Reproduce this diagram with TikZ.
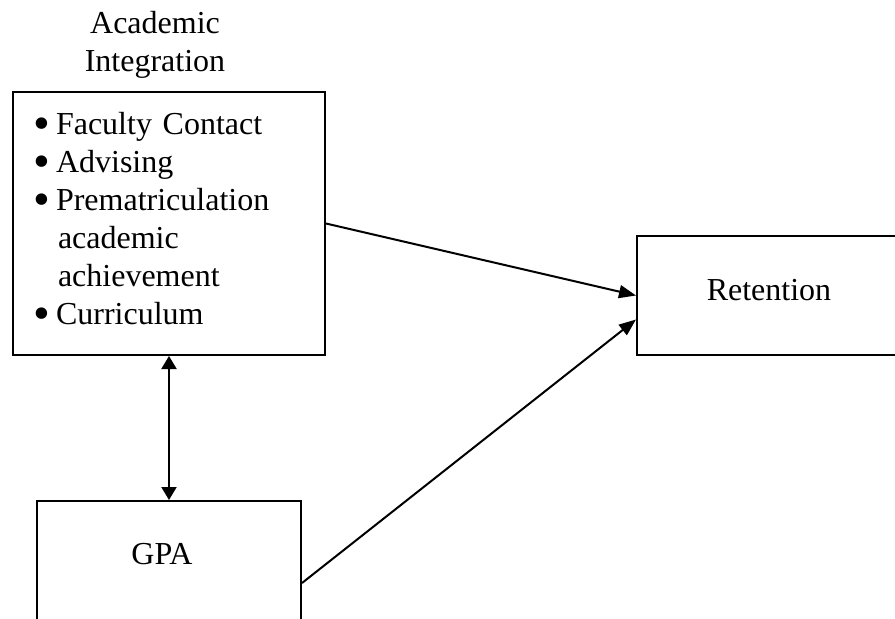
\documentclass[tikz,border=0pt]{standalone}
\usepackage{fontspec}
\usepackage{graphicx}
\setmainfont{Liberation Serif}
\usetikzlibrary{arrows.meta}
\newcommand{\aiitem}[1]{\makebox[11pt][l]{\hspace*{-0.5pt}\raisebox{-2.7pt}{\scalebox{1.5}{\textbullet}}}#1}
\newcommand{\aicont}[1]{\hspace*{12pt}#1}
\tikzset{
    box/.style={draw,line width=1pt,inner sep=0pt,minimum width=132pt},
    conn/.style={line width=1pt,-{Triangle[length=8.5pt,width=6.5pt]}},
    bothconn/.style={line width=1pt,{Triangle[length=6.5pt,width=7.5pt]}-{Triangle[length=6.5pt,width=7.5pt]}}
}
\begin{document}
\begin{tikzpicture}[x=0.5pt,y=-0.5pt,font=\fontsize{16}{19}\selectfont]
    \useasboundingbox (0,0) rectangle (895,618);
    \clip (0,0) rectangle (895,618);
    \node[align=center,inner sep=0pt] (aititle) at (155,44.6) {Academic\\Integration};
    \node[box,minimum width=156pt,minimum height=131.5pt,text width=135pt,align=left,inner xsep=10.5pt,anchor=north west] (ai) at (12,91)
        {\aiitem{Faculty Contact}\\\aiitem{Advising}\\\aiitem{Prematriculation}\\\aicont{academic}\\\aicont{achievement}\\\aiitem{Curriculum}\rule[-5.4pt]{0pt}{5.4pt}};
    \node[box,anchor=north west,text height=32pt,text depth=27.5pt] (ret) at (636,235) {Retention};
    \node[box,anchor=north west,text height=31.5pt,text depth=50.5pt] (gpa) at (36,500) {GPA\hspace*{7pt}};
    \draw[conn] (ai.east) -- (ret.west);
    \draw[conn] (gpa.east) -- ([yshift=-12pt]ret.west);
    \draw[bothconn] (ai.south) -- (gpa.north);
\end{tikzpicture}
\end{document}
